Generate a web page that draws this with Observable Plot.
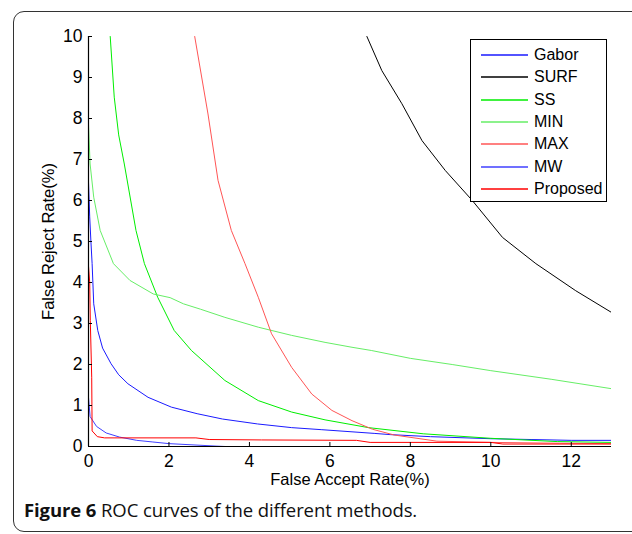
<!DOCTYPE html>
<html>
<head>
<meta charset="utf-8">
<script src="https://cdn.jsdelivr.net/npm/d3@7"></script>
<script src="https://cdn.jsdelivr.net/npm/@observablehq/plot@0.6"></script>
<style>
  html, body { margin: 0; padding: 0; background: #fff; }
  body { width: 632px; height: 534px; overflow: hidden; position: relative; }
  #frame { position: absolute; left: 13px; top: 11px; width: 640px; height: 521px;
           border: 1.5px solid #333; border-radius: 11px; box-sizing: border-box; }
  #chart { position: absolute; left: 0; top: 0; }
  #chart svg text { font-family: "Liberation Sans", Arial, sans-serif; }
  #legend { position: absolute; left: 470px; top: 39px; width: 137px; height: 163px;
            border: 1px solid #000; box-sizing: border-box; background: #fff;
            font-family: "Liberation Sans", Arial, sans-serif; font-size: 16px; }
  .lg { position: absolute; left: 0; height: 20px; display: flex; align-items: center; }
  .lg span.sw { display: inline-block; width: 47px; height: 2px; margin-left: 10px; margin-right: 6px; opacity: 0.75; }
  #caption { position: absolute; left: 24px; top: 497px; font-family: "Open Sans", sans-serif;
             font-size: 18.5px; color: #111; white-space: nowrap; letter-spacing: -0.1px; }
</style>
</head>
<body>
<div id="frame"></div>
<div id="chart"></div>
<div id="legend"></div>
<div id="caption"><b>Figure 6</b> ROC curves of the different methods.</div>
<script>
// ---- data ----
const seriesNames = ["Gabor", "SURF", "SS", "MIN", "MAX", "MW", "Proposed"];
const seriesColors = ["#1a1aff", "#000000", "#00ee00", "#66ee66", "#ff5555", "#4040ff", "#ff0000"];
const xTicks = [0, 2, 4, 6, 8, 10, 12];
const yTicks = [0, 1, 2, 3, 4, 5, 6, 7, 8, 9, 10];

const gaborX = [0, 0.03, 0.06, 0.09, 0.13, 0.23, 0.35, 0.56, 0.75, 0.98, 1.48, 2.06, 2.7, 3.33, 4.2, 5.05, 5.8, 7.1, 7.5, 8.5, 10, 11, 12, 13];
const gaborY = [6.45, 5.6, 5.0, 4.46, 3.48, 2.83, 2.4, 2.02, 1.75, 1.53, 1.2, 0.96, 0.8, 0.67, 0.55, 0.46, 0.41, 0.32, 0.29, 0.24, 0.19, 0.17, 0.15, 0.15];

const surfX = [6.92, 7.29, 7.79, 8.29, 8.87, 9.54, 10.29, 11.12, 12.11, 13];
const surfY = [10, 9.17, 8.36, 7.46, 6.73, 6.0, 5.10, 4.46, 3.80, 3.27];

const ssX = [0.54, 0.64, 0.75, 0.89, 1.18, 1.39, 1.72, 2.13, 2.56, 3.39, 4.22, 5.05, 5.88, 6.96, 8.32, 10, 11.65, 13];
const ssY = [10, 8.52, 7.6, 6.89, 5.27, 4.46, 3.64, 2.83, 2.34, 1.61, 1.12, 0.84, 0.65, 0.46, 0.31, 0.2, 0.12, 0.1];

const minX = [0, 0.04, 0.13, 0.29, 0.62, 1.03, 1.61, 2.03, 2.36, 2.78, 3.39, 4.22, 5.05, 5.88, 6.55, 7.04, 8, 9.04, 10, 11.5, 13];
const minY = [7.87, 6.89, 6.08, 5.27, 4.46, 4.05, 3.72, 3.63, 3.48, 3.35, 3.15, 2.91, 2.71, 2.54, 2.42, 2.34, 2.15, 2.0, 1.85, 1.64, 1.41];

const maxX = [2.64, 2.97, 3.22, 3.55, 3.89, 4.22, 4.55, 5.05, 5.55, 6.05, 6.55, 7.06, 7.6, 8.66, 10, 11.7, 13];
const maxY = [10, 8.11, 6.49, 5.27, 4.46, 3.64, 2.75, 1.93, 1.28, 0.88, 0.63, 0.42, 0.28, 0.13, 0.1, 0.08, 0.07];

const mwX = [0, 0.04, 0.2, 0.44, 0.77, 1.2, 1.6, 2.0, 3.17, 3.4, 13];
const mwY = [1.2, 0.73, 0.49, 0.33, 0.23, 0.15, 0.11, 0.07, 0.01, 0, 0];

const propX = [0, 0, 0.03, 0.045, 0.08, 0.09, 0.22, 0.4, 2.67, 3.0, 4.3, 6.66, 7.0, 10, 10.3, 13];
const propY = [10, 4.4, 4.0, 3.07, 1.69, 0.38, 0.24, 0.21, 0.21, 0.17, 0.16, 0.15, 0.1, 0.1, 0.06, 0.06];

const seriesXs = [gaborX, surfX, ssX, minX, maxX, mwX, propX];
const seriesYs = [gaborY, surfY, ssY, minY, maxY, mwY, propY];

const rows = [];
seriesNames.forEach((name, i) => {
  seriesXs[i].forEach((x, j) => rows.push({name, x, y: seriesYs[i][j]}));
});

const fontFamily = '"Liberation Sans", Arial, sans-serif';

const chart = Plot.plot({
  width: 632,
  height: 495,
  marginLeft: 88,
  marginRight: 21,
  marginTop: 36,
  marginBottom: 49,
  style: {fontFamily, fontSize: "16.5px", color: "#000", background: "transparent", overflow: "visible"},
  x: {domain: [0, 13]},
  y: {domain: [0, 10]},
  color: {domain: seriesNames, range: seriesColors},
  marks: [
    Plot.line(rows, {x: "x", y: "y", z: "name", stroke: "name", strokeWidth: 1, clip: true}),
    Plot.axisX({ticks: xTicks, tickSize: -4, tickPadding: 12, tickFormat: d => String(d), fontSize: 17.5, label: null}),
    Plot.axisX({ticks: [], label: "False Accept Rate(%)", labelAnchor: "center", labelArrow: "none", labelOffset: 38, fontSize: 16.5}),
    Plot.axisY({ticks: yTicks, tickSize: -4, tickPadding: 10, tickFormat: d => String(d), fontSize: 17.5, label: null}),
    Plot.axisY({ticks: [], label: "False Reject Rate(%)", labelAnchor: "center", labelArrow: "none", labelOffset: 46, fontSize: 16.5}),
    Plot.ruleX([0], {stroke: "#000", strokeWidth: 1.2}),
    Plot.ruleY([0], {stroke: "#000", strokeWidth: 1.2})
  ]
});
document.getElementById("chart").appendChild(chart);

// legend (HTML overlay)
const legend = document.getElementById("legend");
seriesNames.forEach((name, i) => {
  const row = document.createElement("div");
  row.className = "lg";
  row.style.top = Math.round(5 + i * 22.3) + "px";
  const sw = document.createElement("span");
  sw.className = "sw";
  sw.style.background = seriesColors[i];
  const t = document.createElement("span");
  t.textContent = name;
  row.appendChild(sw);
  row.appendChild(t);
  legend.appendChild(row);
});
</script>
</body>
</html>
